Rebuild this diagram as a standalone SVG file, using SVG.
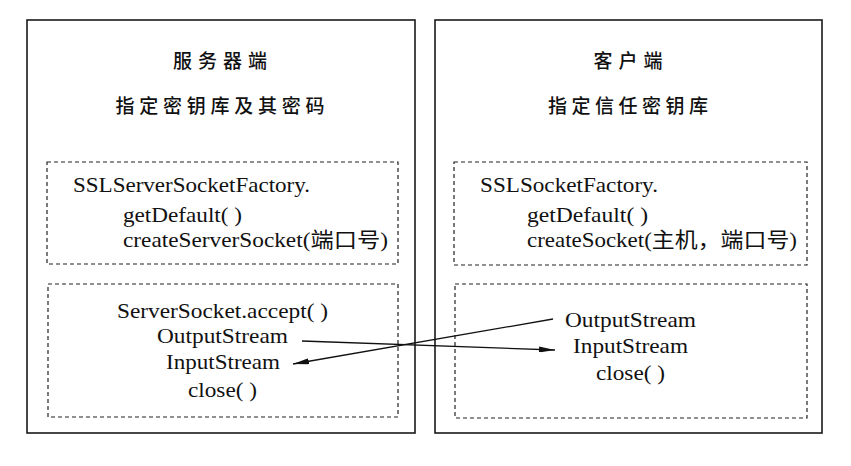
<svg xmlns="http://www.w3.org/2000/svg" width="851" height="466" viewBox="0 0 851 466">
<style>
.outer{fill:none;stroke:#1a1a1a;stroke-width:1.6}
.dash{fill:none;stroke:#222;stroke-width:1.2;stroke-dasharray:4 3}
.title{font-family:'Noto Sans CJK SC',sans-serif;font-size:19px;font-weight:500;fill:#111;text-anchor:middle}
.code{font-family:'Liberation Serif','Noto Sans CJK SC',serif;font-size:21px;fill:#111}
.conn{fill:none;stroke:#111;stroke-width:1.3}
</style>
<defs>
<marker id="ah" viewBox="0 0 16 6" refX="16" refY="3" markerWidth="16" markerHeight="6" markerUnits="userSpaceOnUse" orient="auto">
<path d="M0,0 L16,3 L0,6 Z" fill="#111"/>
</marker>
</defs>
<rect width="851" height="466" fill="#fff"/>
<g id="server">
<rect class="outer" x="27" y="20" width="388" height="413"/>
<text class="title" x="220" y="68" textLength="94" lengthAdjust="spacing">服务器端</text>
<text class="title" x="220" y="113" textLength="209" lengthAdjust="spacing">指定密钥库及其密码</text>
</g>
<g id="server-factory">
<rect class="dash" x="47" y="162" width="351" height="102"/>
<text class="code" x="73" y="192" textLength="237" lengthAdjust="spacingAndGlyphs">SSLServerSocketFactory.</text>
<text class="code" x="123" y="222" textLength="119" lengthAdjust="spacingAndGlyphs">getDefault( )</text>
<text class="code" x="123" y="247" textLength="265" lengthAdjust="spacingAndGlyphs">createServerSocket(端口号)</text>
</g>
<g id="server-stream">
<rect class="dash" x="48" y="284" width="350" height="133"/>
<text class="code" x="117" y="318" textLength="211" lengthAdjust="spacingAndGlyphs">ServerSocket.accept( )</text>
<text class="code" x="157" y="343" textLength="131" lengthAdjust="spacingAndGlyphs">OutputStream</text>
<text class="code" x="166" y="369" textLength="114" lengthAdjust="spacingAndGlyphs">InputStream</text>
<text class="code" x="188" y="397" textLength="69" lengthAdjust="spacingAndGlyphs">close( )</text>
</g>
<g id="client">
<rect class="outer" x="435" y="20" width="387" height="413"/>
<text class="title" x="628" y="68" textLength="69" lengthAdjust="spacing">客户端</text>
<text class="title" x="628" y="113" textLength="160" lengthAdjust="spacing">指定信任密钥库</text>
</g>
<g id="client-factory">
<rect class="dash" x="454" y="162" width="353" height="103"/>
<text class="code" x="480" y="192" textLength="178" lengthAdjust="spacingAndGlyphs">SSLSocketFactory.</text>
<text class="code" x="527" y="222" textLength="121" lengthAdjust="spacingAndGlyphs">getDefault( )</text>
<text class="code" x="527" y="247" textLength="270" lengthAdjust="spacingAndGlyphs">createSocket(主机，端口号)</text>
</g>
<g id="client-stream">
<rect class="dash" x="455" y="284" width="352" height="134"/>
<text class="code" x="565" y="327" textLength="131" lengthAdjust="spacingAndGlyphs">OutputStream</text>
<text class="code" x="573" y="353" textLength="115" lengthAdjust="spacingAndGlyphs">InputStream</text>
<text class="code" x="596" y="380" textLength="69" lengthAdjust="spacingAndGlyphs">close( )</text>
</g>
<g id="connectors">
<line class="conn" x1="302" y1="341" x2="555" y2="350" marker-end="url(#ah)"/>
<line class="conn" x1="553" y1="319" x2="293" y2="364" marker-end="url(#ah)"/>
</g>
</svg>
